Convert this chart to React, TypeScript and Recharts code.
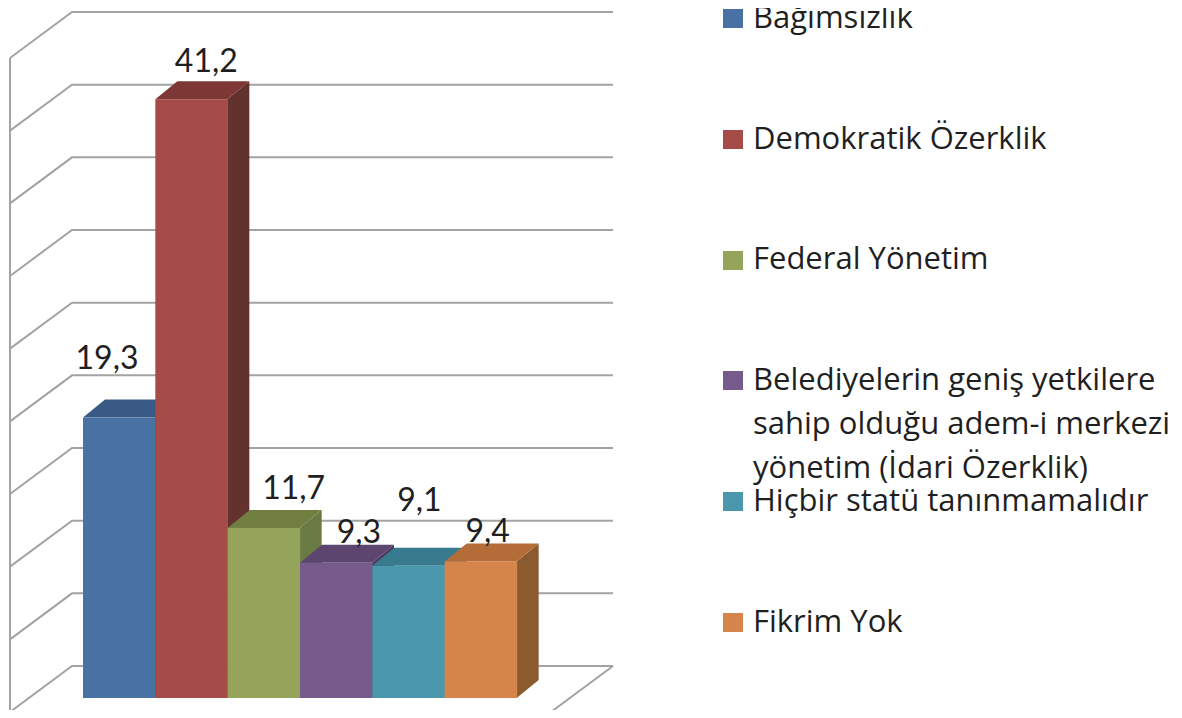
import { BarChart, Bar, XAxis, YAxis, CartesianGrid, LabelList, Legend } from 'recharts';

const categories = [
  'Bağımsızlık',
  'Demokratik Özerklik',
  'Federal Yönetim',
  'Belediyelerin geniş yetkilere sahip olduğu adem-i merkezi yönetim (İdari Özerklik)',
  'Hiçbir statü tanınmamalıdır',
  'Fikrim Yok',
];
const values = [19.3, 41.2, 11.7, 9.3, 9.1, 9.4];
const yTicks = [0, 5, 10, 15, 20, 25, 30, 35, 40, 45];

const frontColors = ['#4a71a3', '#a54c49', '#94a55b', '#765a8b', '#4b97ae', '#d5844a'];
const topColors = ['#3a5a86', '#7d3835', '#718040', '#5c456e', '#387a8e', '#b46d39'];
const sideColors = ['#2f4a6f', '#63312e', '#6a7a44', '#4c3a5c', '#2e6677', '#8c5a2f'];

// label nudges (x, baseline) relative to the bar's front top, like excel placed them
const labelShift = [[-12, -49], [15, -27], [30, -29], [23, -20], [11, -55], [7, -19]];

const data = categories.map((name, i) => ({ name, value: values[i] }));

// 3d geometry
const BOX_DX = 22, BOX_DY = -18;      // bar depth
const BACK_DX = 43, BACK_DY = -32;    // bar front plane -> back wall
const SIDE_DX = -62, SIDE_DY = 46;    // back wall -> front of side wall / floor
const PAD_L = 54, PAD_R = 53;
const GRID = '#a3a3a3';

function Box3D(props: any) {
  const { x, y, width, height, index } = props;
  if (!height) return null;
  const r = x + width;
  const b = y + height;
  return (
    <g>
      <polygon points={`${r},${y} ${r + BOX_DX},${y + BOX_DY} ${r + BOX_DX},${b + BOX_DY} ${r},${b}`} fill={sideColors[index]} />
      <polygon points={`${x},${y} ${x + BOX_DX},${y + BOX_DY} ${r + BOX_DX},${y + BOX_DY} ${r},${y}`} fill={topColors[index]} />
      <rect x={x} y={y} width={width + 0.5} height={height} fill={frontColors[index]} />
    </g>
  );
}

function WallLine(props: any) {
  const { x1, x2, y1, horizontalPoints } = props;
  const pts: number[] = horizontalPoints && horizontalPoints.length ? horizontalPoints : [y1];
  const bottom = Math.max(...pts);
  const top = Math.min(...pts);
  const by = y1 + BACK_DY;
  const bl = x1 + BACK_DX - PAD_L;
  const br = x2 + BACK_DX + PAD_R;
  const fx = bl + SIDE_DX;
  const fy = by + SIDE_DY;
  const isFloor = Math.abs(y1 - bottom) < 0.5;
  return (
    <g key={props.key} stroke={GRID} strokeWidth={2} fill="none">
      <polyline points={`${fx},${fy} ${bl},${by} ${br},${by}`} />
      {isFloor && (
        <>
          <polyline points={`${fx},${fy} ${br + SIDE_DX},${fy} ${br},${by}`} />
          <line x1={fx} y1={top + BACK_DY + SIDE_DY} x2={fx} y2={fy} />
        </>
      )}
    </g>
  );
}

function renderLegend() {
  const fs = 31;
  return (
    <div style={{ position: 'relative', width: 467, height: 718, fontFamily: '"Open Sans", sans-serif', fontSize: fs, color: '#1f1f1f' }}>
      {categories.map((c, i) => {
        const top = 9 + i * 120.75;
        // first row sits at the very top, so give it a tighter line box
        const lh = i === 0 ? 32 : 44;
        const textTop = top + 19 - (lh - fs * 1.362) / 2 - fs * 1.069;
        return (
          <div key={c}>
            <div style={{ position: 'absolute', left: 8, top, width: 20, height: 19, background: frontColors[i] }} />
            <div style={{ position: 'absolute', left: 38, top: textTop, width: 428, lineHeight: `${lh}px`, textAlign: 'left', whiteSpace: 'normal' }}>
              {c}
            </div>
          </div>
        );
      })}
    </div>
  );
}

export default function App() {
  return (
    <div style={{ position: 'relative', width: 1182, height: 718, margin: -8, background: '#fff' }}>
      <BarChart
        width={1182}
        height={718}
        data={data}
        margin={{ top: 44, right: 665, bottom: 20, left: 83 }}
        barCategoryGap={0}
        barGap={0}
      >
        <CartesianGrid vertical={false} horizontal={(p: any) => <WallLine {...p} />} />
        <XAxis dataKey="name" hide />
        <YAxis domain={[0, 45]} ticks={yTicks} hide />
        <Legend
          layout="vertical"
          align="center"
          verticalAlign="middle"
          wrapperStyle={{ left: 715, top: 0, width: 467, height: 718 }}
          content={renderLegend}
        />
        <Bar dataKey="value" isAnimationActive={false} shape={(p: any) => <Box3D {...p} />}>
          <LabelList
            dataKey="value"
            content={(p: any) => {
              const i = p.index ?? values.indexOf(p.value);
              const [dx, dy] = labelShift[i] || [0, -10];
              return (
                <text
                  x={p.x + p.width / 2 + dx}
                  y={p.y + dy}
                  textAnchor="middle"
                  fontFamily="Lato, sans-serif"
                  fontSize={32}
                  fill="#1f1f1f"
                >
                  {String(p.value).replace('.', ',')}
                </text>
              );
            }}
          />
        </Bar>
      </BarChart>
    </div>
  );
}
